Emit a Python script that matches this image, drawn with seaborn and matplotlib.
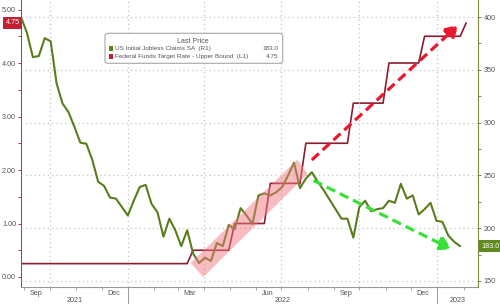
import numpy as np
import pandas as pd
import matplotlib
matplotlib.use("Agg")
import matplotlib.pyplot as plt
import matplotlib.dates as mdates
import matplotlib.transforms as mtransforms
from matplotlib.patches import Polygon, FancyBboxPatch, Rectangle
import seaborn as sns

# ---------------- data ----------------
claims_dates = pd.date_range("2021-08-28", "2023-01-28", freq="7D")
claims = [400, 385, 362, 363, 380, 377, 337, 318, 310, 296,
          281, 280, 265, 244, 240, 229, 228, 220, 212, 226,
          239, 241, 223, 215, 192, 209, 198, 183, 198, 176,
          167, 172, 169, 186, 183, 203, 199, 219, 212, 204,
          231, 233, 231, 234, 239, 250, 262, 238, 247, 253,
          244, 236, 227, 218, 209, 209, 191, 220, 226, 216,
          218, 219, 226, 224, 242, 228, 231, 213, 218, 224,
          207, 206, 193, 187, 183]

fed_dates = pd.date_range("2021-08-28", "2023-02-04", freq="7D")
fed_rate = [0.25, 0.25, 0.25, 0.25, 0.25, 0.25, 0.25, 0.25, 0.25, 0.25,
            0.25, 0.25, 0.25, 0.25, 0.25, 0.25, 0.25, 0.25, 0.25, 0.25,
            0.25, 0.25, 0.25, 0.25, 0.25, 0.25, 0.25, 0.25, 0.25,
            0.50, 0.50, 0.50, 0.50, 0.50, 0.50, 0.50,
            1.00, 1.00, 1.00, 1.00, 1.00, 1.00,
            1.75, 1.75, 1.75, 1.75, 1.75, 1.75,
            2.50, 2.50, 2.50, 2.50, 2.50, 2.50, 2.50, 2.50,
            3.25, 3.25, 3.25, 3.25, 3.25, 3.25,
            4.00, 4.00, 4.00, 4.00, 4.00, 4.00,
            4.50, 4.50, 4.50, 4.50, 4.50, 4.50, 4.50,
            4.75]

claims_label = "US Initial Jobless Claims SA  (R1)"
fed_label = "Federal Funds Target Rate - Upper Bound  (L1)"
claims_last = "183.0"
fed_last = "4.75"

left_ticks = [0, 1, 2, 3, 4, 5]
right_ticks = [150, 200, 250, 300, 350, 400]
month_label_dates = pd.to_datetime(["2021-09-15", "2021-12-15", "2022-03-15",
                                    "2022-06-15", "2022-09-15", "2022-12-15"])
month_labels = ["Sep", "Dec", "Mar", "Jun", "Sep", "Dec"]
grid_dates = pd.to_datetime(["2021-10-01", "2022-01-01", "2022-04-01",
                             "2022-07-01", "2022-10-01", "2023-01-01"])
year_breaks = pd.to_datetime(["2022-01-01", "2023-01-01"])
year_labels = ["2021", "2022", "2023"]

# annotation shapes (date, claims-axis value)
band_dates = pd.to_datetime(["2022-03-16", "2022-03-31", "2022-08-01", "2022-07-20"])
band_vals = [167, 153.8, 251.3, 265]
red_arrow_dates = pd.to_datetime(["2022-08-06", "2023-01-26"])
red_arrow_vals = [264.6, 392.4]
green_arrow_dates = pd.to_datetime(["2022-08-08", "2023-01-18"])
green_arrow_vals = [245.2, 180.0]

df_claims = pd.DataFrame({"date": claims_dates, "value": claims})
df_fed = pd.DataFrame({"date": fed_dates, "value": fed_rate})

# ---------------- style ----------------
sns.set_theme(style="white")
plt.rcParams["font.family"] = ["Liberation Sans", "DejaVu Sans"]
TXT = "#555555"
GREEN = "#5a7d1c"
RED = "#8c1d30"
GRID = "#c4c4c4"

fig = plt.figure(figsize=(5.0, 3.04), dpi=100)
fig.patch.set_facecolor("white")
ax = fig.add_axes([21 / 500, 17 / 304, 457 / 500, 287 / 304])
ax2 = ax.twinx()

xmin = pd.Timestamp("2021-08-28")
xmax = pd.Timestamp("2023-02-18")

sns.lineplot(data=df_fed, x="date", y="value", ax=ax, color=RED, lw=1.2)
sns.lineplot(data=df_claims, x="date", y="value", ax=ax2, color=GREEN, lw=1.5)

ax.set_xlim(xmin, xmax)
ax.set_ylim(-0.187, 5.178)
ax2.set_ylim(144.3, 416.1)
for a in (ax, ax2):
    a.set_xlabel("")
    a.set_ylabel("")
    a.set_facecolor("none")
ax.set_facecolor("white")
ax.set_zorder(0)
ax2.set_zorder(1)

# grid
ax2.set_yticks(right_ticks)
ax2.yaxis.grid(True, which="major", ls=(0, (1, 2.5)), color=GRID, lw=0.9)
ax.yaxis.grid(False)
ax.xaxis.grid(False)
ax2.xaxis.grid(False)
for gd in grid_dates:
    ax2.axvline(gd, ls=(0, (1, 2.5)), color=GRID, lw=0.9, zorder=0)

# left axis
ax.set_yticks(left_ticks)
ax.set_yticklabels([f"{v:.2f}" for v in left_ticks])
ax.set_yticks(np.arange(0.5, 5.1, 1.0), minor=True)
ax.tick_params(axis="y", which="both", direction="out", length=2.5, width=0.7,
               colors="#b03040", labelcolor=TXT, labelsize=5.2, pad=1, left=True)
# right axis
ax2.set_yticks(np.arange(175, 416, 50), minor=True)
ax2.tick_params(axis="y", which="both", direction="out", length=2.5, width=0.7,
                colors="#7d8c3a", labelcolor=TXT, labelsize=5.2, pad=1.5, right=True)

# spines
for s in ("top",):
    ax.spines[s].set_visible(False)
    ax2.spines[s].set_visible(False)
ax2.spines["left"].set_visible(False)
ax2.spines["bottom"].set_visible(False)
ax.spines["right"].set_visible(False)
ax.spines["left"].set_color("#b03040")
ax.spines["left"].set_linewidth(0.7)
ax2.spines["right"].set_color("#7d8c3a")
ax2.spines["right"].set_linewidth(0.8)
ax.spines["bottom"].set_color("#999999")
ax.spines["bottom"].set_linewidth(0.8)

# x axis: month labels at mid-month, minor ticks at month starts
ax.set_xticks(mdates.date2num(month_label_dates))
ax.set_xticklabels(month_labels)
ax.xaxis.set_minor_locator(mdates.MonthLocator())
ax.tick_params(axis="x", which="major", length=0, labelsize=5.2, labelcolor=TXT, pad=2.5, bottom=True)
ax.tick_params(axis="x", which="minor", length=2.5, width=0.6, color="#999999", bottom=True)

btrans = mtransforms.blended_transform_factory(ax.transData, ax.transAxes)
for yb in year_breaks:
    ax.plot([yb, yb], [0, -17 / 287], transform=btrans, color="#999999", lw=0.7, clip_on=False)
year_edges = [xmin] + list(year_breaks) + [xmax]
for i, lab in enumerate(year_labels):
    mid = year_edges[i] + (year_edges[i + 1] - year_edges[i]) / 2
    ax.text(mid, -13.8 / 287, lab, transform=btrans, ha="center", va="center",
            fontsize=5.2, color=TXT)

# pink band
band = Polygon(np.column_stack([mdates.date2num(band_dates), band_vals]), closed=True,
               facecolor="#f07a80", alpha=0.5, edgecolor="none", zorder=5)
ax2.add_patch(band)

# dashed arrows
def dashed_arrow(dates, vals, color):
    x = mdates.date2num(dates)
    ax2.annotate("", xy=(x[1], vals[1]), xytext=(x[0], vals[0]),
                 arrowprops=dict(arrowstyle="-|>,head_length=0.55,head_width=0.32",
                                 color=color, lw=2.3, linestyle=(0, (3, 1.6)),
                                 shrinkA=0, shrinkB=0, mutation_scale=14,
                                 capstyle="butt", joinstyle="miter"),
                 zorder=6)

dashed_arrow(red_arrow_dates, red_arrow_vals, "#e8192c")
dashed_arrow(green_arrow_dates, green_arrow_vals, "#38e038")

# legend box
lx0, lx1 = (105 - 21) / 457, (282.7 - 21) / 457
ly0, ly1 = 1 - 63.3 / 287, 1 - 33.3 / 287
box = FancyBboxPatch((lx0, ly0), lx1 - lx0, ly1 - ly0, transform=ax2.transAxes,
                     boxstyle="round,pad=0,rounding_size=0.008", facecolor="white",
                     edgecolor="#a8a8a8", lw=0.8, zorder=7)
ax2.add_patch(box)
ax2.text((193 - 21) / 457, 1 - 41.7 / 287, "Last Price", transform=ax2.transAxes,
         ha="center", va="center", fontsize=5.0, color=TXT, zorder=8)
rows = [(claims_label, claims_last, "#4e8a1e", 48.5), (fed_label, fed_last, "#c21f32", 56.3)]
for lab, val, col, yy in rows:
    yf = 1 - yy / 287
    ax2.add_patch(Rectangle(((108.5 - 21) / 457, yf - 2.3 / 287), 4.2 / 457, 4.6 / 287,
                            transform=ax2.transAxes, facecolor=col, edgecolor="none", zorder=8))
    ax2.text((114.5 - 21) / 457, yf, lab, transform=ax2.transAxes, ha="left", va="center",
             fontsize=4.6, color=TXT, zorder=8)
    ax2.text((278 - 21) / 457, yf, val, transform=ax2.transAxes, ha="right", va="center",
             fontsize=4.6, color=TXT, zorder=8)

# last value tags
ltrans = mtransforms.blended_transform_factory(ax.transAxes, ax.transData)
ax.text(-0.003, fed_rate[-1], fed_last, transform=ltrans, ha="right", va="center",
        fontsize=5.2, color="white", zorder=10, clip_on=False,
        bbox=dict(boxstyle="square,pad=0.35", facecolor="#c21f32", edgecolor="none"))
rtrans = mtransforms.blended_transform_factory(ax2.transAxes, ax2.transData)
ax2.text(1.008, claims[-1], claims_last, transform=rtrans, ha="left", va="center",
         fontsize=5.2, color="white", zorder=10, clip_on=False,
         bbox=dict(boxstyle="square,pad=0.3", facecolor="#5f8a1e", edgecolor="none"))

fig.savefig("out.png", dpi=100, facecolor="white")
